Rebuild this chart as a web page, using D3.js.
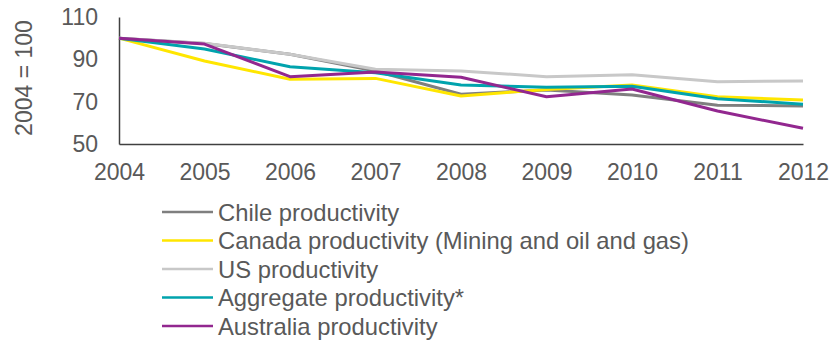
<!DOCTYPE html>
<html>
<head>
<meta charset="utf-8">
<script src="https://cdn.jsdelivr.net/npm/d3@7"></script>
<style>
  html, body { margin: 0; padding: 0; background: #fff; }
  svg { display: block; font-family: "Liberation Sans", Arial, sans-serif; }
</style>
</head>
<body>
<svg id="chart" width="831" height="341"></svg>
<script>
// Productivity indices, 2004 = 100
const years = [2004, 2005, 2006, 2007, 2008, 2009, 2010, 2011, 2012];
const yTicks = [50, 70, 90, 110];

const chile     = [100, 97.5, 92.4, 84.5, 73.5, 75.5, 73.1, 68.3, 68.0];
const canada    = [100, 89.2, 80.6, 81.0, 72.7, 75.8, 77.9, 72.3, 70.8];
const us        = [100, 97.6, 92.4, 85.3, 84.5, 81.8, 82.7, 79.4, 79.8];
const aggregate = [100, 94.9, 86.5, 83.7, 77.9, 76.8, 77.3, 71.4, 68.8];
const australia = [100, 97.2, 81.8, 84.0, 81.5, 72.3, 76.0, 65.6, 57.4];

const seriesNames  = ["Chile productivity", "Canada productivity (Mining and oil and gas)", "US productivity", "Aggregate productivity*", "Australia productivity"];
const seriesValues = [chile, canada, us, aggregate, australia];
const seriesColors = ["#7f7f7f", "#ffe600", "#c8c8c8", "#00a3ad", "#92278f"];

const svg = d3.select("#chart");
const textColor = "#595959";
const fontSize = 23;
const legendFontSize = 23.8;

const x = d3.scalePoint().domain(years).range([119, 803]);
const y = d3.scaleLinear().domain([50, 110]).range([144, 17]);

// Axes
const xAxis = svg.append("g").attr("transform", "translate(0,144)")
  .call(d3.axisBottom(x).tickSize(0).tickPadding(20));
xAxis.select(".domain").attr("stroke", "#404040").attr("stroke-width", 1.5);
xAxis.selectAll("text").attr("fill", textColor).attr("font-size", fontSize)
  .attr("font-family", "Liberation Sans, Arial, sans-serif");

const yAxis = svg.append("g").attr("transform", "translate(119,0)")
  .call(d3.axisLeft(y).tickValues(yTicks).tickSize(0).tickPadding(21));
yAxis.select(".domain").attr("stroke", "#404040").attr("stroke-width", 1.5);
yAxis.selectAll("text").attr("fill", textColor).attr("font-size", fontSize)
  .attr("font-family", "Liberation Sans, Arial, sans-serif");

svg.append("text")
  .attr("transform", "translate(24,78) rotate(-90)")
  .attr("text-anchor", "middle").attr("dominant-baseline", "central")
  .attr("fill", textColor).attr("font-size", fontSize)
  .text("2004 = 100");

// Lines
const line = d3.line().x((d, i) => x(years[i])).y(d => y(d));
seriesValues.forEach((vals, k) => {
  svg.append("path").datum(vals)
    .attr("d", line)
    .attr("fill", "none")
    .attr("stroke", seriesColors[k])
    .attr("stroke-width", 3)
    .attr("stroke-linejoin", "round");
});

// Legend
const legend = svg.append("g");
seriesNames.forEach((name, k) => {
  const cy = 212 + k * 28.5;
  legend.append("line")
    .attr("x1", 162).attr("x2", 213).attr("y1", cy).attr("y2", cy)
    .attr("stroke", seriesColors[k]).attr("stroke-width", 2.5);
  legend.append("text")
    .attr("x", 218).attr("y", cy)
    .attr("dominant-baseline", "central")
    .attr("fill", textColor).attr("font-size", legendFontSize)
    .text(name);
});
</script>
</body>
</html>
